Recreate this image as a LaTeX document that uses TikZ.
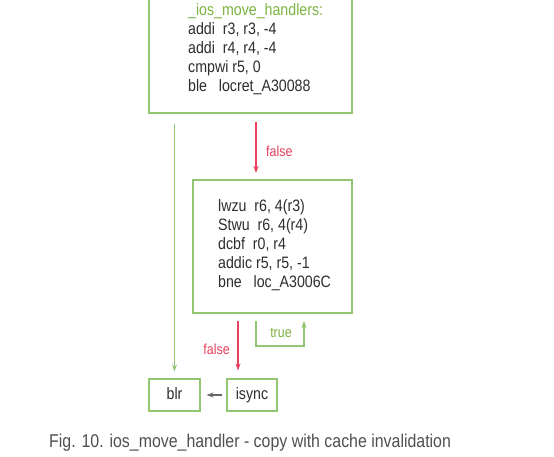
\documentclass[tikz,border=0pt]{standalone}
\usepackage{fontspec}
\setmainfont{Liberation Sans}[FakeStretch=0.86]
\usetikzlibrary{arrows.meta}
\definecolor{boxgreen}{HTML}{93C672}
\definecolor{txtgreen}{HTML}{7CB342}
\definecolor{falsered}{HTML}{E8405E}
\definecolor{codegray}{HTML}{2E2E2E}
\definecolor{capgray}{HTML}{505050}
\definecolor{arrgray}{HTML}{666666}
\tikzset{
  blockbox/.style={draw=boxgreen, line width=1.1pt, rectangle, inner sep=0pt},
  codetext/.style={anchor=north west, inner sep=0pt, align=left, text=codegray,
    font=\fontsize{16.5}{19}\selectfont},
  lbl/.style={inner sep=0pt, font=\fontsize{14.5}{16}\selectfont},
  tip/.style={-{Stealth[length=7pt,width=5pt]}},
  greenline/.style={draw=boxgreen, line width=1.1pt},
  redline/.style={draw=falsered, line width=1.1pt},
}
\begin{document}
\begin{tikzpicture}[x=1pt,y=-1pt]
\useasboundingbox[fill=white] (0,0) rectangle (554,457);
\begin{scope}
\clip (0,0) rectangle (554,457);
\node[blockbox, minimum width=203pt, minimum height=133pt] (top) at (250.5,46.5) {};
\end{scope}
\node[codetext] (toptext) at (188,3) {\textcolor{txtgreen}{\_ios\_move\_handlers:}\\
addi\ \ r3, r3, -4\\
addi\ \ r4, r4, -4\\
cmpwi r5, 0\\
ble\ \ \ locret\_A30088};
\node[blockbox, minimum width=159pt, minimum height=133pt] (mid) at (272.5,246.5) {};
\node[codetext] (midtext) at (218,199) {lwzu\ \ r6, 4(r3)\\
Stwu\ \ r6, 4(r4)\\
dcbf\ \ r0, r4\\
addic r5, r5, -1\\
bne\ \ \ loc\_A3006C};
\node[blockbox, minimum width=51pt, minimum height=32pt, text height=11pt, text depth=2pt, font=\fontsize{16.5}{19}\selectfont, text=codegray] (blr) at (174.5,395) {blr};
\node[blockbox, minimum width=50pt, minimum height=32pt, text height=11pt, text depth=2pt, font=\fontsize{16.5}{19}\selectfont, text=codegray] (isync) at (252,395) {isync};
% left green line to blr
\coordinate (lstart) at ([yshift=-10pt]top.south -| blr.north);
\draw[greenline, tip, shorten >=7pt] (lstart) -- (blr.north);
% false arrow top -> mid
\coordinate (f1s) at (256,122);
\coordinate (f1e) at (256,180);
\draw[redline, tip, shorten >=7pt] (f1s) -- (f1e);
\node[lbl, text=falsered, anchor=west] (f1lbl) at (266,151) {false};
% false arrow mid -> isync
\coordinate (f2s) at (238,321);
\draw[redline, tip, shorten >=8pt] (f2s) -- (f2s |- isync.north);
\node[lbl, text=falsered, anchor=east] (f2lbl) at (230,349) {false};
% true loop
\coordinate (t1) at (256,321);
\coordinate (t2) at (256,346);
\coordinate (t3) at (304,346);
\coordinate (t4) at (304,321);
\draw[greenline, tip] (t1) -- (t2) -- (t3) -- (t4);
\node[lbl, text=txtgreen] (tlbl) at (281,333) {true};
% isync -> blr
\draw[draw=arrgray, line width=1.1pt, tip, shorten <=4pt, shorten >=6pt] (isync.west) -- (blr.east);
% caption
\node[anchor=west, inner sep=0pt, text=capgray, font=\fontsize{18.5}{20}\selectfont] (cap) at (49,443) {Fig. 10. ios\_move\_handler - copy with cache invalidation};
\end{tikzpicture}
\end{document}
